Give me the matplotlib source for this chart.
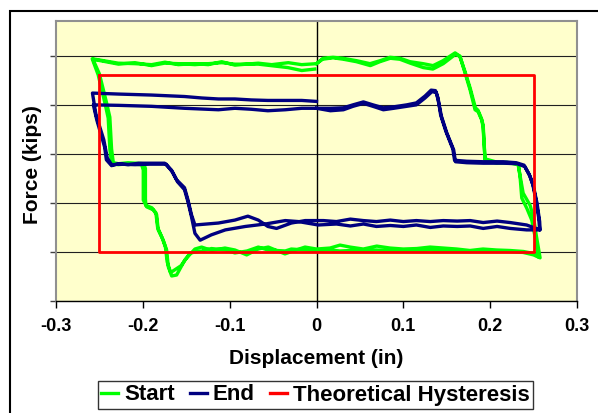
import numpy as np
import matplotlib
matplotlib.use('Agg')
import matplotlib.pyplot as plt
from matplotlib.patches import Rectangle

plt.rcParams['font.family'] = ['Liberation Sans', 'DejaVu Sans']

# green "Start" record, two cycles (displacement in, force kips)
start_x_1 = [0.000, 0.0075, 0.019, 0.0305, 0.0463, 0.0616, 0.0732, 0.0847, 0.0962, 0.1077, 0.1227, 0.1342, 0.1457,
             0.1596, 0.1653, 0.1711, 0.1768, 0.1826, 0.1861, 0.1903, 0.1918, 0.1941, 0.2076, 0.2191, 0.2325, 0.2344,
             0.2364, 0.2422, 0.2479, 0.2517, 0.2555,
             0.2498, 0.2382, 0.2229, 0.2076, 0.1918, 0.1768, 0.1615, 0.1461, 0.1308, 0.1154, 0.1000, 0.0847, 0.0694,
             0.0539, 0.0386, 0.0271, 0.0156, 0.0000, -0.0132, -0.0286, -0.0363, -0.0555, -0.0671, -0.0804, -0.0939,
             -0.1054, -0.1207, -0.1323, -0.1400, -0.1515, -0.1611, -0.1668, -0.1707, -0.1726, -0.1765, -0.1823,
             -0.1841, -0.1880, -0.1956, -0.1995, -0.1995, -0.2014, -0.2168, -0.2283, -0.2359, -0.2379, -0.2399,
             -0.2437, -0.2514, -0.2583,
             -0.2283, -0.2091, -0.1899, -0.1745, -0.1592, -0.1400, -0.1247, -0.1092, -0.0939, -0.0671, -0.0516,
             -0.0325, -0.0171, 0.000]
start_y_1 = [18.4, 19.5, 19.7, 19.5, 19.0, 18.4, 19.0, 19.7, 19.5, 18.8, 18.4, 18.0, 19.0, 20.6, 19.9, 16.5, 13.1,
             9.0, 8.6, 6.9, 5.5, -1.2, -1.9, -1.7, -2.2, -4.6, -9.0, -11.1, -13.5, -16.9, -21.0,
             -20.3, -19.9, -19.7, -19.6, -19.4, -19.7, -19.4, -19.2, -19.0, -19.3, -19.4, -19.2, -18.8, -19.4, -19.0,
             -18.6, -19.2, -19.4, -19.0, -19.9, -20.4, -19.0, -19.4, -20.6, -19.6, -19.2, -19.7, -19.0, -19.4, -21.6,
             -24.7, -24.9, -23.0, -19.6, -17.6, -15.5, -12.4, -11.4, -10.8, -9.4, -3.3, -2.2, -2.0, -2.2, -1.9, 0.8,
             7.3, 10.4, 16.1, 19.4,
             18.5, 18.4, 18.2, 18.7, 18.2, 18.4, 18.2, 18.8, 18.1, 18.5, 18.2, 18.6, 18.2, 18.4]
start_x_2 = [0.007, 0.019, 0.031, 0.046, 0.062, 0.073, 0.085, 0.096, 0.108, 0.123, 0.134, 0.146, 0.160, 0.165, 0.171,
             0.177, 0.183, 0.186, 0.190, 0.192, 0.194, 0.208, 0.219, 0.232, 0.234, 0.238, 0.246, 0.250, 0.253, 0.2575,
             0.250, 0.238, 0.223, 0.208, 0.192, 0.177, 0.162, 0.146, 0.131, 0.115, 0.100, 0.085, 0.069, 0.054, 0.039,
             0.027, 0.016, 0.000, -0.013, -0.029, -0.036, -0.056, -0.067, -0.080, -0.094, -0.105, -0.121, -0.132,
             -0.1455, -0.156, -0.168, -0.172, -0.174, -0.178, -0.183, -0.185, -0.1895, -0.1965, -0.197, -0.197,
             -0.199, -0.217, -0.228, -0.234, -0.236, -0.238, -0.242, -0.250, -0.2575,
             -0.228, -0.209, -0.190, -0.175, -0.159, -0.140, -0.125, -0.109, -0.094, -0.067, -0.052, -0.033, -0.017,
             -0.002]
start_y_2 = [19.3, 19.6, 19.3, 18.8, 18.0, 18.8, 19.5, 19.3, 18.5, 17.6, 17.3, 18.4, 20.3, 19.9, 16.8, 13.4, 9.4,
             8.9, 7.2, 5.8, -1.0, -1.7, -1.9, -2.0, -4.0, -8.0, -10.5, -13.0, -16.5, -21.2,
             -20.6, -20.1, -19.9, -19.8, -19.7, -19.9, -19.7, -19.8, -19.6, -19.8, -19.7, -19.8, -19.6, -19.8, -19.7,
             -19.8, -19.6, -19.7, -19.6, -19.4, -19.8, -19.6, -19.0, -19.8, -20.2, -19.6, -19.3, -19.8, -20.2, -22.8,
             -24.2, -22.0, -19.0, -17.0, -15.0, -12.0, -11.0, -10.5, -9.2, -3.0, -2.0, -1.8, -2.0, -1.8, 1.0, 7.5,
             10.6, 16.3, 19.3,
             18.3, 18.6, 18.0, 18.5, 18.4, 18.2, 18.4, 18.6, 18.3, 18.3, 18.0, 17.6, 17.0, 17.3]

# navy "End" record, two cycles
end_x_1 = [0.000, 0.016, 0.031, 0.042, 0.054, 0.065, 0.077, 0.089, 0.104, 0.115, 0.125, 0.133, 0.138, 0.140, 0.144,
           0.150, 0.158, 0.160, 0.173, 0.192, 0.215, 0.231, 0.240, 0.246, 0.250, 0.254, 0.257, 0.2575,
           0.242, 0.223, 0.208, 0.192, 0.177, 0.162, 0.146, 0.131, 0.115, 0.100, 0.085, 0.069, 0.054, 0.039, 0.023,
           0.008, -0.013, -0.029, -0.046, -0.056, -0.067, -0.079, -0.094, -0.113, -0.140, -0.144, -0.148, -0.152,
           -0.161, -0.167, -0.175, -0.190, -0.205, -0.217, -0.228, -0.236, -0.242, -0.244, -0.253, -0.257,
           -0.228, -0.190, -0.152, -0.113, -0.094, -0.075, -0.056, -0.036, -0.017, 0.000]
end_y_1 = [9.3, 8.8, 9.0, 9.7, 10.3, 9.7, 9.0, 9.3, 9.7, 10.0, 11.4, 12.7, 12.5, 11.0, 7.6, 4.3, 0.8, -1.6, -1.8,
           -1.9, -1.9, -2.0, -2.6, -4.6, -6.7, -10.1, -13.8, -15.5,
           -14.5, -14.0, -13.7, -14.0, -13.6, -13.7, -13.6, -13.8, -13.6, -13.8, -13.5, -13.8, -13.6, -13.3, -13.8,
           -13.6, -13.6, -14.1, -15.2, -14.8, -13.5, -12.7, -13.5, -14.1, -14.5, -12.4, -9.4, -6.9, -5.3, -3.3,
           -1.9, -1.9, -1.9, -2.2, -2.0, -2.4, -1.2, 1.4, 6.9, 10.0,
           9.9, 9.7, 9.3, 9.0, 9.3, 9.1, 8.8, 9.0, 9.3, 9.3]
end_x_2 = [0.016, 0.031, 0.042, 0.054, 0.065, 0.077, 0.089, 0.104, 0.115, 0.125, 0.132, 0.137, 0.140, 0.143, 0.149,
           0.157, 0.159, 0.173, 0.192, 0.215, 0.230, 0.239, 0.245, 0.249, 0.253, 0.256, 0.257,
           0.242, 0.223, 0.208, 0.192, 0.177, 0.162, 0.146, 0.131, 0.115, 0.100, 0.085, 0.069, 0.054, 0.039, 0.023,
           0.002, -0.021, -0.036, -0.059, -0.082, -0.105, -0.121, -0.134, -0.140, -0.144, -0.148, -0.152, -0.160,
           -0.166, -0.173, -0.192, -0.209, -0.226, -0.236, -0.241, -0.245, -0.254, -0.258,
           -0.228, -0.190, -0.152, -0.132, -0.113, -0.094, -0.075, -0.056, -0.036, -0.017, 0.000]
end_y_2 = [9.3, 9.4, 10.0, 10.6, 10.0, 9.4, 9.6, 10.0, 10.4, 11.8, 13.0, 12.9, 11.4, 7.9, 4.6, 1.0, -1.3, -1.5,
           -1.6, -1.6, -1.8, -2.3, -4.2, -6.2, -9.6, -13.2, -15.5,
           -15.5, -15.2, -14.8, -15.2, -14.7, -14.8, -14.7, -15.0, -14.5, -14.8, -14.6, -14.8, -14.3, -14.7, -14.3,
           -14.5, -13.8, -13.6, -14.3, -14.8, -15.5, -16.5, -17.6, -16.2, -12.8, -9.8, -7.3, -5.7, -3.7, -2.1,
           -2.1, -2.2, -2.1, -2.2, -0.8, 2.9, 8.0, 12.4,
           12.2, 12.0, 11.7, 11.4, 11.2, 11.2, 11.0, 10.9, 10.9, 10.9, 10.7]

# theoretical rectangle
hyst_x = [-0.25, 0.25, 0.25, -0.25, -0.25]
hyst_y = [16.1, 16.1, -20.0, -20.0, 16.1]

x_ticks = [-0.3, -0.2, -0.1, 0.0, 0.1, 0.2, 0.3]
x_tick_labels = ['-0.3', '-0.2', '-0.1', '0', '0.1', '0.2', '0.3']
y_grid = [-30, -20, -10, 0, 10, 20]

W, H = 598, 413
fig = plt.figure(figsize=(W / 100, H / 100), dpi=100)
ax = fig.add_axes([56 / W, 1 - 301 / H, (577 - 56) / W, (301 - 21) / H])
ax.set_facecolor('#FFFFCC')

ax.plot(start_x_1 + start_x_2, start_y_1 + start_y_2, color='#00FF00', lw=2.4, label='Start',
        solid_joinstyle='round', zorder=3)
ax.plot(end_x_1 + end_x_2, end_y_1 + end_y_2, color='#000080', lw=2.4, label='End',
        solid_joinstyle='round', zorder=4)
ax.plot(hyst_x, hyst_y, color='#FF0000', lw=2.0, label='Theoretical Hysteresis', zorder=5)

ax.set_xlim(-0.3, 0.3)
ax.set_ylim(-30, 27.1)
ax.set_xticks(x_ticks)
ax.set_xticklabels(x_tick_labels, fontsize=13, fontweight='bold')
ax.set_yticks(y_grid)
ax.set_yticklabels([])
ax.yaxis.grid(True, color='#202020', lw=0.8)
ax.set_axisbelow(True)
ax.axvline(0, color='black', lw=1.0, zorder=2)

for s in ['top', 'right', 'left']:
    ax.spines[s].set_color('#909090')
    ax.spines[s].set_linewidth(1.5)
ax.spines['bottom'].set_color('black')
ax.spines['bottom'].set_linewidth(1.0)
ax.tick_params(axis='x', direction='out', length=5, width=1, pad=7)
ax.tick_params(axis='y', direction='out', length=4, width=1, color='#404040')

ax.set_xlabel('Displacement (in)', fontsize=15, fontweight='bold', labelpad=10)
fig.text(32 / W, 1 - 165 / H, 'Force (kips)', rotation=90, ha='center', va='center',
         fontsize=15, fontweight='bold')

leg = fig.legend(loc='center', bbox_to_anchor=(315.5 / W, 1 - 395 / H), ncol=3,
                 prop={'weight': 'bold', 'size': 16}, frameon=True, fancybox=False,
                 edgecolor='black', handlelength=0.77, handletextpad=0.25, columnspacing=0.7,
                 borderpad=0.15, borderaxespad=0)
leg.get_frame().set_linewidth(1.0)
for h in leg.get_lines():
    h.set_linewidth(2.4)

fig.add_artist(Rectangle((10 / W, -0.5), 2, 1.5 - 10.5 / H, transform=fig.transFigure,
                         fill=False, ec='black', lw=1.5))

fig.savefig('out.png', dpi=100)
